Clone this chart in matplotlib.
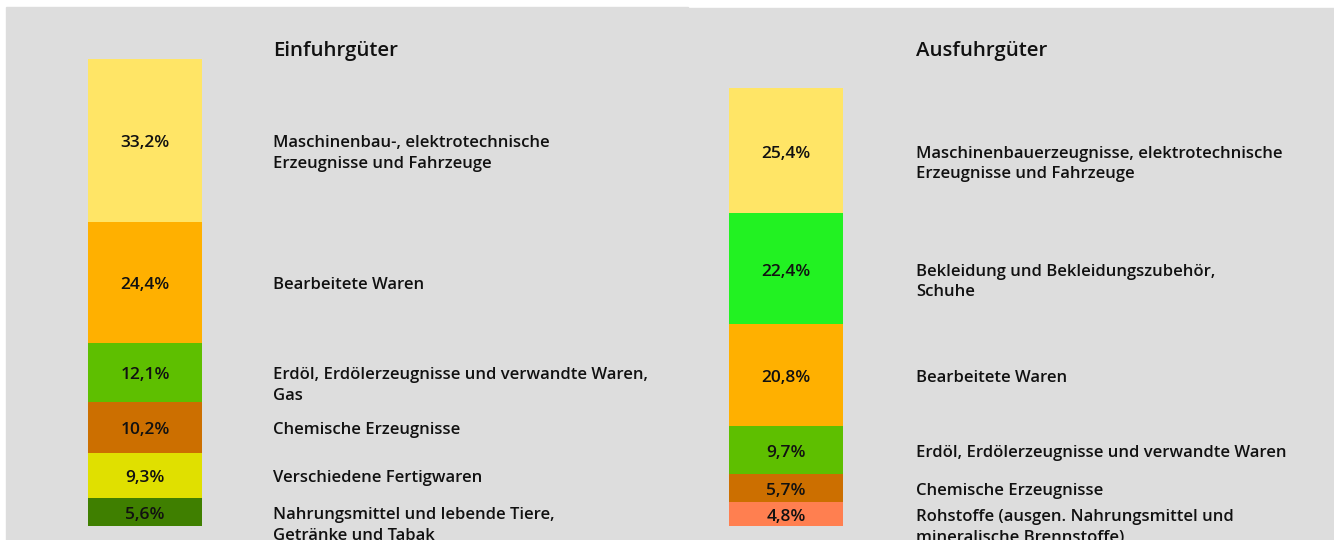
import matplotlib
matplotlib.use("Agg")
import matplotlib.pyplot as plt
from matplotlib.patches import Rectangle

plt.rcParams['font.family'] = ['Open Sans', 'DejaVu Sans']

# Einfuhrgüter (imports), from top to bottom
imp_labels = ["Maschinenbau-, elektrotechnische\nErzeugnisse und Fahrzeuge",
              "Bearbeitete Waren",
              "Erdöl, Erdölerzeugnisse und verwandte Waren,\nGas",
              "Chemische Erzeugnisse",
              "Verschiedene Fertigwaren",
              "Nahrungsmittel und lebende Tiere,\nGetränke und Tabak"]
imp_values = [33.2, 24.4, 12.1, 10.2, 9.3, 5.6]
imp_colors = ["#ffe566", "#ffb000", "#5ebf00", "#cc6f00", "#e0e000", "#3f7f00"]

# Ausfuhrgüter (exports), from top to bottom
exp_labels = ["Maschinenbauerzeugnisse, elektrotechnische\nErzeugnisse und Fahrzeuge",
              "Bekleidung und Bekleidungszubehör,\nSchuhe",
              "Bearbeitete Waren",
              "Erdöl, Erdölerzeugnisse und verwandte Waren",
              "Chemische Erzeugnisse",
              "Rohstoffe (ausgen. Nahrungsmittel und\nmineralische Brennstoffe)"]
exp_values = [25.4, 22.4, 20.8, 9.7, 5.7, 4.8]
exp_colors = ["#ffe566", "#22f222", "#ffb000", "#5ebf00", "#cc6f00", "#ff7f50"]

W, H = 1334, 540
PX = 4.93  # pixels per percent

fig = plt.figure(figsize=(W / 100, H / 100), dpi=100)
fig.patch.set_facecolor("white")

ax = fig.add_axes([0, 0, 1, 1])
ax.set_xlim(0, W)
ax.set_ylim(-(H - 526) / PX, 526 / PX)
ax.axis("off")

# grey panels
ax.add_patch(Rectangle((6 / W, 0), (688 - 6) / W, (H - 7) / H,
                       transform=fig.transFigure, color="#dddddd", zorder=0))
ax.add_patch(Rectangle((688 / W, 0), (W - 688) / W, (H - 8) / H,
                       transform=fig.transFigure, color="#dddddd", zorder=0))


def draw(xc, tx, values, labels, colors, title):
    bottom = sum(values)
    for v, lab, c in zip(values, labels, colors):
        bottom -= v
        ax.bar(xc, v, bottom=bottom, width=114, color=c, linewidth=0, zorder=2)
        yc = bottom + v / 2
        ax.annotate(f"{v:.1f}%".replace(".", ","), (xc, yc), xytext=(0, -3),
                    textcoords="offset pixels", ha="center", va="center",
                    fontsize=12.5, fontweight="semibold", color="#111111", zorder=3)
        ax.annotate(lab, (tx, yc), xytext=(0, 5), textcoords="offset pixels",
                    ha="left", va="top", fontsize=12, fontweight="semibold",
                    color="#111111", linespacing=1.38, zorder=3)
    ax.text(tx, (526 - 51) / PX, title, ha="left", va="center",
            fontsize=14.7, fontweight="semibold", color="#111111", zorder=3)


draw(145, 273, imp_values, imp_labels, imp_colors, "Einfuhrgüter")
draw(786, 916, exp_values, exp_labels, exp_colors, "Ausfuhrgüter")

fig.savefig("out.png", dpi=100)
